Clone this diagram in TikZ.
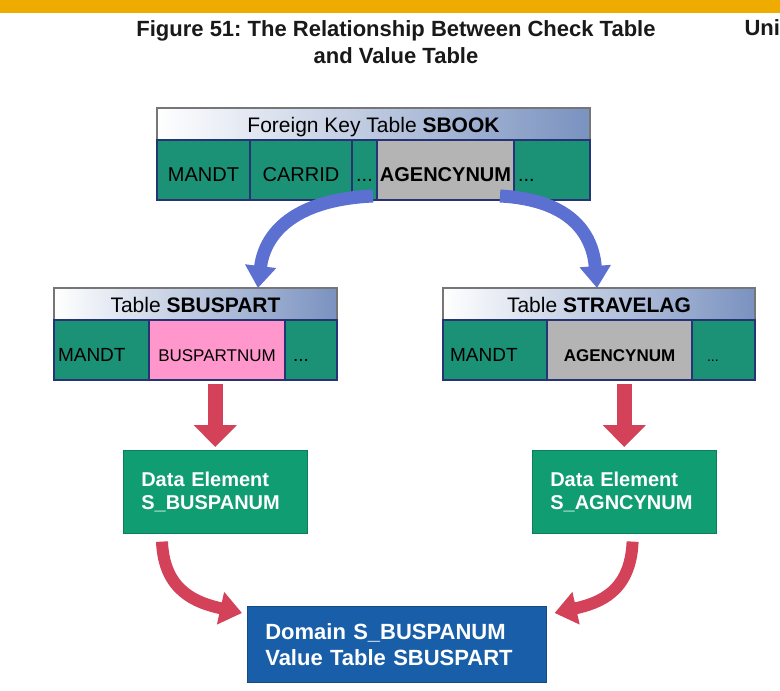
\documentclass[tikz,border=0pt]{standalone}
\usepackage{fontspec}
\setmainfont{Liberation Sans}
\frenchspacing
\usetikzlibrary{arrows.meta}
\definecolor{SapGold}{RGB}{240,171,0}
\definecolor{CellGreen}{RGB}{27,145,117}
\definecolor{CellLine}{RGB}{38,52,118}
\definecolor{KeyGray}{RGB}{180,180,180}
\definecolor{KeyPink}{RGB}{255,150,204}
\definecolor{HeadBlue}{RGB}{122,146,192}
\definecolor{HeadLine}{RGB}{118,118,118}
\definecolor{ArcBlue}{RGB}{92,112,210}
\definecolor{ArrowRed}{RGB}{212,66,90}
\definecolor{ElemGreen}{RGB}{16,157,114}
\definecolor{DomBlue}{RGB}{24,94,168}

\begin{document}
\begin{tikzpicture}[x=1pt, y=-1pt,
    hdr/.style={anchor=north west, draw=HeadLine, line width=1.5pt, minimum height=32pt,
      inner sep=0pt, outer sep=0pt, text height=16pt, text depth=0pt, left color=white,
      middle color=white!90!HeadBlue, right color=HeadBlue, font=\fontsize{21}{24}\selectfont},
    cell/.style={anchor=north west, draw=CellLine, line width=1.2pt, fill=CellGreen,
      minimum height=60pt, inner sep=0pt, outer sep=0pt, text height=23pt, text depth=0pt,
      font=\fontsize{20}{24}\selectfont},
    lcell/.style={cell, inner xsep=4pt, align=left},
    elem/.style={anchor=north west, fill=ElemGreen, draw=ElemGreen!80!black, line width=0.6pt,
      text=white, inner xsep=18pt, align=left, font=\fontsize{20}{23}\selectfont\bfseries},
    bluearc/.style={draw=ArcBlue, line width=13pt, -{Triangle[width=30pt,length=22pt]}},
    redarc/.style={draw=ArrowRed, line width=12pt, -{Triangle[width=32pt,length=22pt]}},
    reddown/.style={draw=ArrowRed, line width=15pt, -{Triangle[width=42pt,length=22pt]}}]
  \useasboundingbox (0,0) rectangle (780,691);
  \clip (0,0) rectangle (780,691);

  % Heading
  \fill[SapGold] (0,0) rectangle (780,13);
  \node[font=\fontsize{22}{27}\selectfont\bfseries, align=center, text=black!90] (title)
    at (396,42) {Figure 51: The Relationship Between Check Table\\and Value Table};
  \node[font=\fontsize{22}{27}\selectfont\bfseries, text=black!90, anchor=west] (unit)
    at (741,28) {Unit};

  % Foreign key table
  \node[hdr, minimum width=433pt] (sbookhd) at (157,108) {Foreign Key Table \textbf{SBOOK}};
  \node[cell, minimum width=93pt] (sb1) at (sbookhd.south west) {MANDT};
  \node[cell, minimum width=102pt] (sb2) at (sb1.north east) {CARRID};
  \node[cell, minimum width=25pt] (sb3) at (sb2.north east) {...};
  \node[cell, minimum width=137pt, fill=KeyGray] (sb4) at (sb3.north east) {\textbf{AGENCYNUM}};
  \node[lcell, text width=68pt] (sb5) at (sb4.north east) {...};

  % Check tables
  \node[hdr, minimum width=283pt] (sbphd) at (54,288) {Table \textbf{SBUSPART}\hspace{30pt}};
  \node[lcell, text width=87pt, font=\fontsize{19}{22}\selectfont] (sbp1) at (sbphd.south west) {MANDT};
  \node[cell, minimum width=136pt, fill=KeyPink, font=\fontsize{17}{20}\selectfont] (sbp2)
    at (sbp1.north east) {BUSPARTNUM};
  \node[lcell, inner xsep=8pt, text width=36pt, font=\fontsize{19}{22}\selectfont] (sbp3)
    at (sbp2.north east) {...};

  \node[hdr, minimum width=312pt] (sthd) at (443,288) {Table \textbf{STRAVELAG}\hspace{14pt}};
  \node[lcell, text width=96pt, font=\fontsize{19}{22}\selectfont] (st1) at (sthd.south west) {\,MANDT};
  \node[cell, minimum width=145pt, fill=KeyGray, font=\fontsize{17}{20}\selectfont\bfseries] (st2)
    at (st1.north east) {AGENCYNUM};
  \node[lcell, inner xsep=15pt, text width=33pt, font=\fontsize{14}{16}\selectfont] (st3)
    at (st2.north east) {...};

  % Data elements and domain
  \node[elem, minimum width=184pt, minimum height=83pt, text width=148pt] (de1) at (123,450)
    {Data Element\\S\_BUSPANUM};
  \node[elem, minimum width=184pt, minimum height=83pt, text width=148pt] (de2) at (532,450)
    {Data Element\\S\_AGNCYNUM};
  \node[elem, fill=DomBlue, draw=DomBlue!80!black, minimum width=299pt, minimum height=76pt,
    text width=263pt, font=\fontsize{22}{26}\selectfont\bfseries] (dom) at (247,606)
    {Domain S\_BUSPANUM\\Value Table SBUSPART};

  % Arrows
  \draw[bluearc] ([xshift=-4pt,yshift=4pt]sb4.south west) .. controls +(-85,4) and +(6,-50) ..
    ([xshift=204pt]sbphd.north west);
  \draw[bluearc] ([xshift=-14pt,yshift=4pt]sb4.south east) .. controls +(75,4) and +(-4,-50) ..
    ([xshift=154pt]sthd.north west);
  \draw[reddown, shorten <=4pt, shorten >=3pt] (de1.north |- sbp2.south) -- (de1.north);
  \draw[reddown, shorten <=4pt, shorten >=3pt] (de2.north |- st2.south) -- (de2.north);
  \draw[redarc] ([xshift=39pt,yshift=-8pt]de1.south west) .. controls +(2,50) and +(-45,-10) ..
    ([xshift=-5pt,yshift=-7pt]dom.north west);
  \draw[redarc] ([xshift=-84pt,yshift=-8pt]de2.south east) .. controls +(-2,50) and +(45,-10) ..
    ([xshift=8pt,yshift=-7pt]dom.north east);
\end{tikzpicture}
\end{document}
